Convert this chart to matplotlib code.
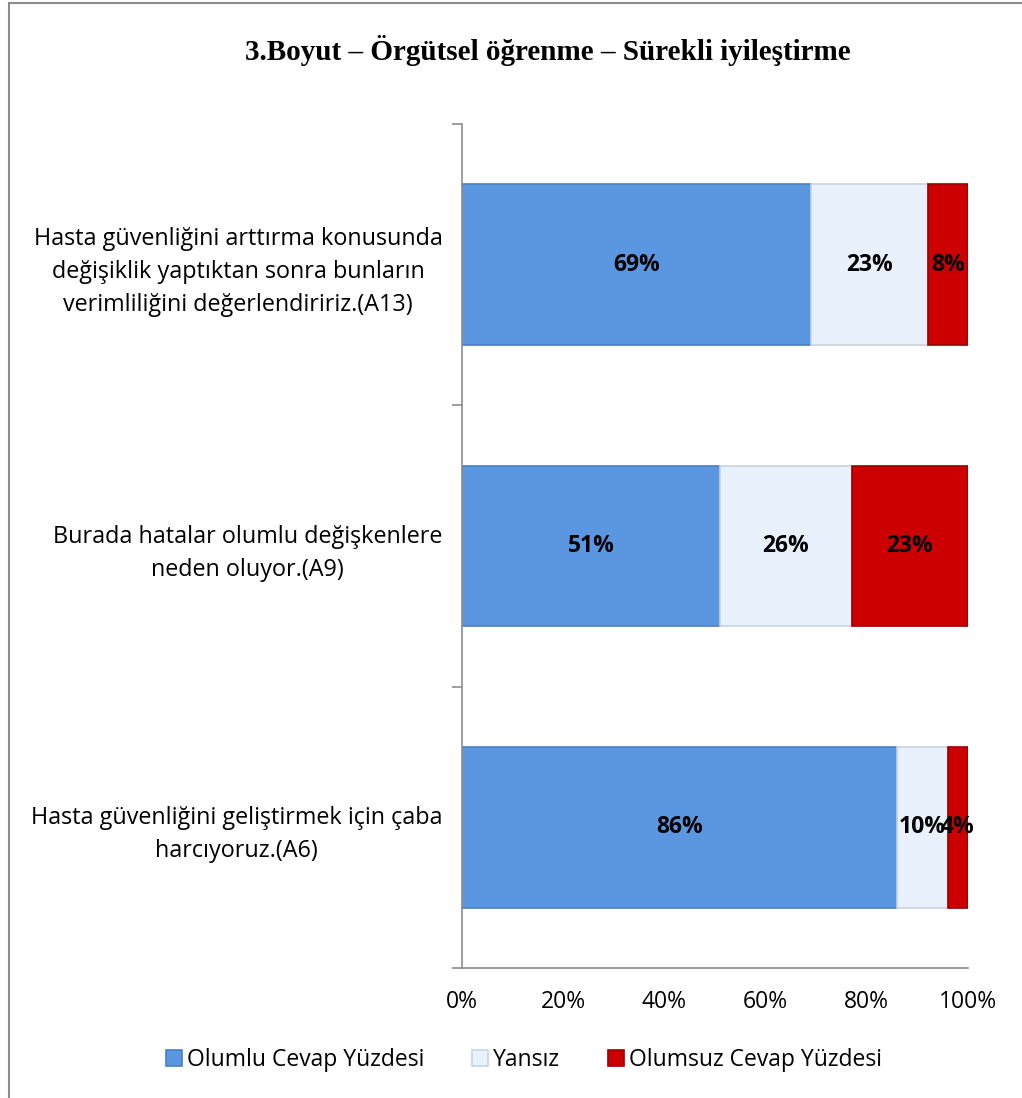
import numpy as np
import matplotlib
matplotlib.use("Agg")
import matplotlib.pyplot as plt
from matplotlib.patches import Rectangle

# veriler
categories = [
    "Hasta güvenliğini arttırma konusunda\ndeğişiklik yaptıktan sonra bunların\nverimliliğini değerlendiririz.(A13)",
    "Burada hatalar olumlu değişkenlere\nneden oluyor.(A9)",
    "Hasta güvenliğini geliştirmek için çaba\nharcıyoruz.(A6)",
]
olumlu = [69, 51, 86]
yansiz = [23, 26, 10]
olumsuz = [8, 23, 4]
series_names = ["Olumlu Cevap Yüzdesi", "Yansız", "Olumsuz Cevap Yüzdesi"]
xtick_vals = [0, 20, 40, 60, 80, 100]
title = "3.Boyut – Örgütsel öğrenme – Sürekli iyileştirme"

colors = ["#5B97E0", "#E8F1FC", "#CC0000"]
edges = ["#4A7FC0", "#C8D3E0", "#990000"]

plt.rcParams["font.family"] = ["Open Sans", "DejaVu Sans"]

fig = plt.figure(figsize=(10.22, 10.98), dpi=100)
ax = fig.add_axes([462/1022, 1-968/1098, 506/1022, 844/1098])

# cerceve
fig.patches.append(Rectangle((9/1022, -0.05), 1.2, 1.05 - 3/1098, transform=fig.transFigure,
                             fill=False, edgecolor="#8C8C8C", linewidth=1.5))

y = np.arange(len(categories))
left = np.zeros(len(categories))
for vals, name, c, ec in zip([olumlu, yansiz, olumsuz], series_names, colors, edges):
    bars = ax.barh(y, vals, left=left, height=0.57, color=c, edgecolor=ec, linewidth=1.2, label=name)
    for b, v in zip(bars, vals):
        ax.text(b.get_x() + b.get_width()/2, b.get_y() + b.get_height()/2, f"{v}%",
                ha="center", va="center", fontsize=16.5, fontweight="bold", color="black")
    left = left + np.array(vals)

ax.set_xlim(0, 100)
ax.set_ylim(2.5, -0.5)
ax.set_xticks(xtick_vals)
ax.set_xticklabels([f"{v}%" for v in xtick_vals], fontsize=16.5)
ax.tick_params(axis="x", length=0, pad=16)
ax.set_yticks(y)
ax.set_yticklabels(categories, fontsize=16.8, linespacing=1.5)
for lab in ax.get_yticklabels():
    lab.set_multialignment("center")
ax.tick_params(axis="y", which="major", length=0, pad=14)
ax.set_yticks([-0.5, 0.5, 1.5, 2.5], minor=True)
ax.tick_params(axis="y", which="minor", length=7, color="#8C8C8C", width=1.2)

for s in ["top", "right"]:
    ax.spines[s].set_visible(False)
for s in ["left", "bottom"]:
    ax.spines[s].set_color("#8C8C8C")
    ax.spines[s].set_linewidth(1.2)

fig.text(548/1022, 1-50/1098, title, ha="center", va="center", fontsize=21,
         fontweight="bold", family=["Liberation Serif", "DejaVu Serif"])

fig.legend(loc="center", bbox_to_anchor=(524/1022, 1-1060/1098), ncol=3, frameon=False,
           fontsize=16.5, handlelength=0.7, handleheight=0.7, handletextpad=0.2, columnspacing=2.1)

fig.savefig("out.png", dpi=100)
